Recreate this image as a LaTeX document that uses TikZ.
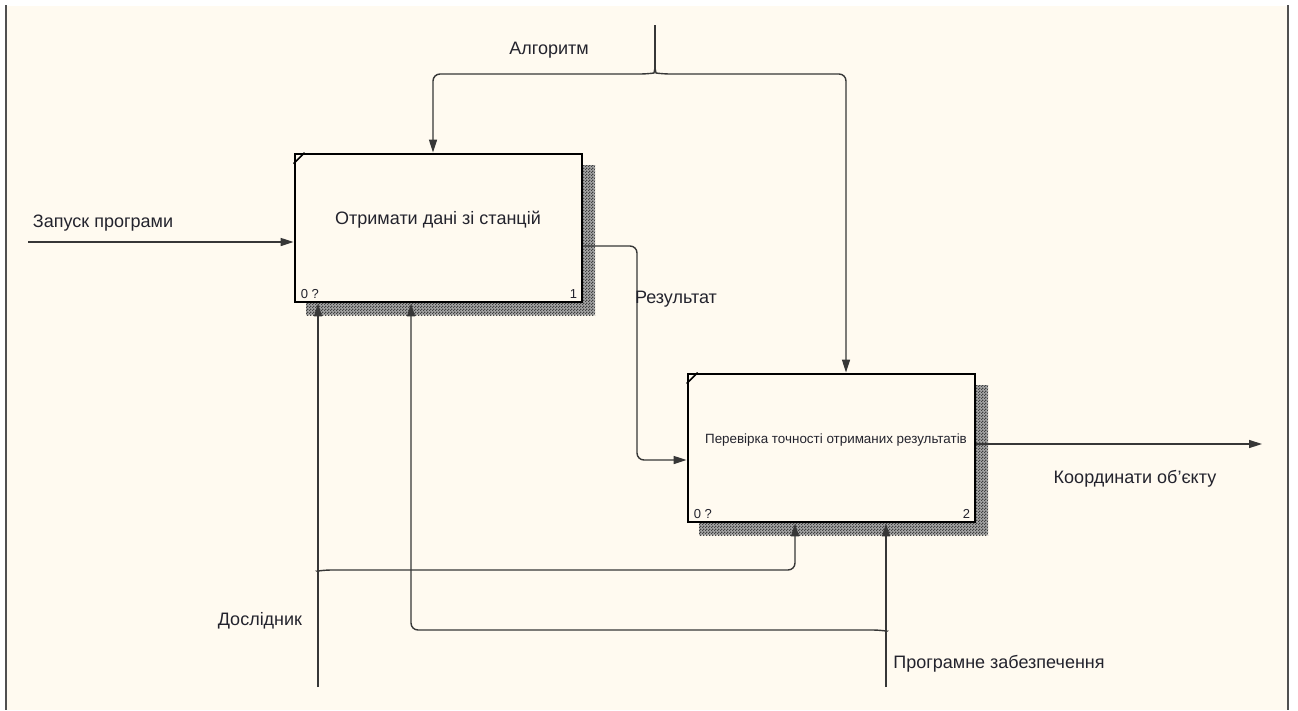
\documentclass[tikz,border=0pt]{standalone}
\usepackage{fontspec}
\setmainfont{Liberation Sans}
\usetikzlibrary{arrows.meta,patterns}

\definecolor{paper}{RGB}{255,250,240}
\definecolor{ink}{RGB}{35,35,45}
\definecolor{wirec}{RGB}{55,55,55}
\definecolor{framec}{RGB}{80,80,80}

% fine checkerboard used for the drop shadows of the function boxes
\pgfdeclarepatternformonly{finecheck}{\pgfpointorigin}{\pgfpoint{3pt}{3pt}}{\pgfpoint{3pt}{3pt}}{%
  \pgfpathrectangle{\pgfpointorigin}{\pgfpoint{1.5pt}{1.5pt}}%
  \pgfpathrectangle{\pgfpoint{1.5pt}{1.5pt}}{\pgfpoint{1.5pt}{1.5pt}}%
  \pgfusepath{fill}}

\tikzset{
  funcbox/.style={draw=black, line width=2.8pt, fill=paper, minimum width=287pt,
    minimum height=148pt, inner sep=0pt},
  boxshadow/.style={fill=black!35, postaction={pattern=finecheck, pattern color=black!75}},
  wire/.style={draw=wirec, line width=1.4pt, rounded corners=7pt},
  arr/.style={wire, -{Triangle[length=13pt,width=8pt]}},
  lbl/.style={text=ink, font=\fontsize{18}{20}\selectfont, inner sep=0pt},
  smalltitle/.style={text=ink, font=\fontsize{13.4}{15}\selectfont, inner sep=0pt},
  tag/.style={text=ink, font=\fontsize{13}{14}\selectfont, inner sep=0pt},
}

\begin{document}
\begin{tikzpicture}[x=1pt,y=-1pt]
\useasboundingbox (0,0) rectangle (1298,710);
\fill[white] (0,0) rectangle (1298,710);
\fill[paper] (6,6) rectangle (1288,710);
\draw[framec, line width=1.5pt] (6,5) -- (6,710);
\draw[framec, line width=1.5pt] (1288,5) -- (1288,710);

% drop shadows
\fill[boxshadow] (306,165) rectangle (595,315);
\fill[boxshadow] (699,385) rectangle (988,535);

% function boxes
\node[funcbox] (b1) at (438.5,228) {};
\node[funcbox] (b2) at (831.5,448) {};
\draw[line width=1.5pt] ([yshift=-11pt]b1.north west) -- ([xshift=11pt]b1.north west);
\draw[line width=1.5pt] ([yshift=-11pt]b2.north west) -- ([xshift=11pt]b2.north west);

\node[lbl] (t1) at (438,220) {Отримати дані зі станцій};
\node[smalltitle] (t2) at (836,440) {Перевірка точності отриманих результатів};

\node[tag, anchor=south west] (n1a) at ([shift={(7pt,5pt)}]b1.south west) {0 ?};
\node[tag, anchor=south east] (n1b) at ([shift={(-6pt,5pt)}]b1.south east) {1};
\node[tag, anchor=south west] (n2a) at ([shift={(7pt,5pt)}]b2.south west) {0 ?};
\node[tag, anchor=south east] (n2b) at ([shift={(-6pt,5pt)}]b2.south east) {2};

% control: algorithm, forked to both boxes
\coordinate (algsrc) at (655,25);
\coordinate (algfork) at (655,68);
\coordinate (algL) at (433,74);
\coordinate (algR) at (846,74);
\draw[wire] (algsrc) -- (algfork);
\draw[arr] (algfork) .. controls (654,73) .. (647,74) -- (algL) -- (algL |- b1.north);
\draw[arr] (algfork) .. controls (656,73) .. (663,74) -- (algR) -- (algR |- b2.north);

% input
\coordinate (runsrc) at (28,242);
\draw[arr] (runsrc) -- (runsrc -| b1.west);

% result of box 1 into box 2
\coordinate (resT1) at (637,246);
\coordinate (resT2) at (637,460);
\draw[arr] (resT1 -| b1.east) -- (resT1) -- (resT2) -- (resT2 -| b2.west);

% output
\coordinate (outend) at (1262,444);
\draw[arr] (outend -| b2.east) -- (outend);

% mechanism: researcher
\coordinate (rsbot) at (318,687);
\coordinate (rsfork) at (318,576);
\coordinate (rsR) at (795,570);
\draw[arr] (rsbot) -- (rsbot |- b1.south);
\draw[arr] (rsfork) .. controls (318,571) .. (324,570) -- (rsR) -- (rsR |- b2.south);

% mechanism: software
\coordinate (swbot) at (886,687);
\coordinate (swfork) at (886,636);
\coordinate (swL) at (411,630);
\draw[arr] (swbot) -- (swbot |- b2.south);
\draw[arr] (swfork) .. controls (886,631) .. (880,630) -- (swL) -- (swL |- b1.south);

% arrow labels
\node[lbl] (lalg) at (549,50) {Алгоритм};
\node[lbl] (lrun) at (103,223) {Запуск програми};
\node[lbl] (lres) at (676,299) {Результат};
\node[lbl] (lout) at (1135,479) {Координати об'єкту};
\node[lbl] (lrs) at (260,621) {Дослідник};
\node[lbl] (lsw) at (999,664) {Програмне забезпечення};
\end{tikzpicture}
\end{document}
